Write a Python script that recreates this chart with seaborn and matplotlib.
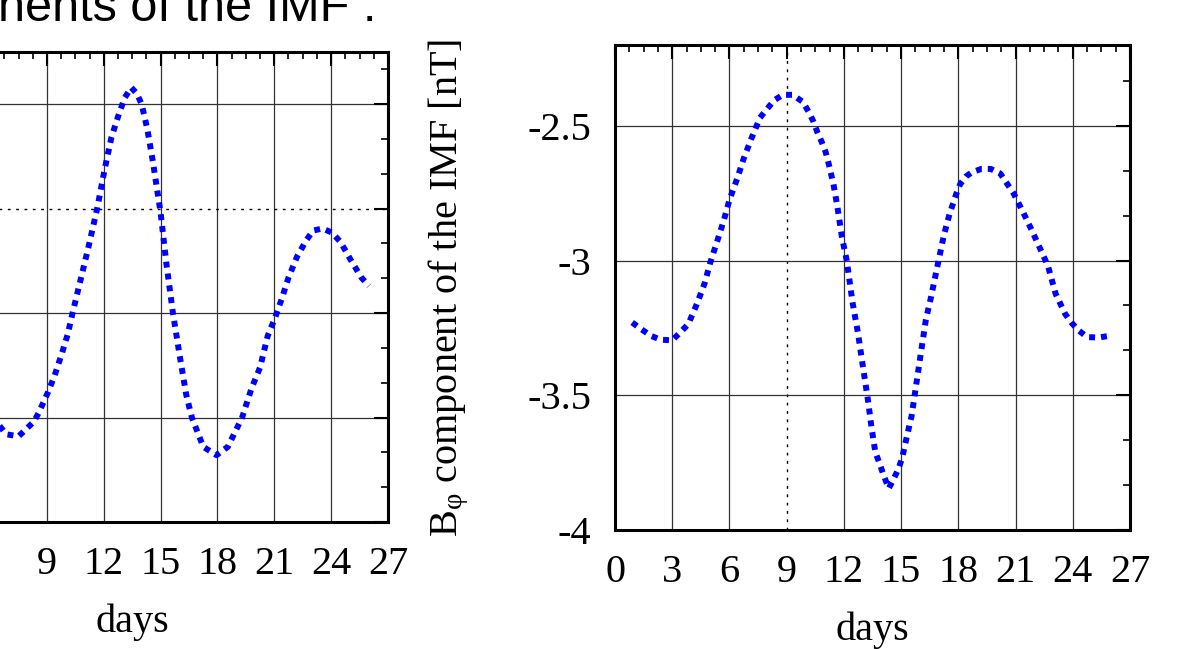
import pandas as pd
import seaborn as sns
from matplotlib import pyplot as plt
from matplotlib.ticker import MultipleLocator

left_days = [6.5, 6.85, 7.5, 7.85, 8.3, 8.55, 8.8, 9.05, 9.4, 9.8, 10.1, 10.35, 10.75, 11.2,
             11.65, 12.05, 12.4, 12.75, 13.1, 13.45, 13.75, 14.0, 14.3, 14.6, 14.8, 15.0,
             15.3, 15.65, 16.0, 16.35, 16.65, 17.25, 17.95, 18.55, 19.3, 19.8, 20.25, 20.65,
             21.05, 21.4, 21.75, 22.2, 22.7, 23.05, 23.55, 24.05, 24.5, 25.0, 25.6, 26.0]
left_vals = [-1.04, -1.08, -1.09, -1.06, -1.02, -0.98, -0.93, -0.88, -0.80, -0.69, -0.60, -0.50,
             -0.35, -0.18, 0.0, 0.19, 0.34, 0.44, 0.53, 0.58, 0.55, 0.50, 0.38, 0.22, 0.10, -0.02,
             -0.26, -0.50, -0.70, -0.89, -1.0, -1.14, -1.18, -1.14, -1.0, -0.86, -0.76, -0.61,
             -0.52, -0.43, -0.33, -0.23, -0.15, -0.105, -0.095, -0.115, -0.16, -0.24, -0.33, -0.37]

# B_phi component (right panel)
right_days = [0.9, 1.4, 1.9, 2.4, 3.0, 3.45, 3.85, 4.3, 4.7, 5.0, 5.35, 5.7, 6.0, 6.4, 6.75,
              7.15, 7.6, 8.0, 8.35, 8.8, 9.3, 9.85, 10.15, 10.4, 10.6, 10.85, 11.05, 11.2,
              11.45, 11.65, 11.9, 12.15, 12.45, 12.75, 13.0, 13.25, 13.45, 13.65, 13.85, 14.05,
              14.35, 14.6, 14.85, 15.05, 15.3, 15.55, 15.8, 16.05, 16.3, 16.55, 16.9, 17.25,
              17.55, 17.9, 18.1, 18.4, 18.7, 19.2, 19.7, 20.2, 20.55, 20.9, 21.4, 21.9, 22.4,
              22.7, 23.1, 23.6, 23.95, 24.3, 24.75, 25.35, 25.95]
right_vals = [-3.23, -3.256, -3.28, -3.294, -3.296, -3.265, -3.235, -3.16, -3.084, -3.006,
              -2.93, -2.852, -2.775, -2.697, -2.621, -2.547, -2.47, -2.435, -2.405, -2.385,
              -2.385, -2.411, -2.448, -2.484, -2.522, -2.562, -2.599, -2.64, -2.716, -2.796,
              -2.914, -3.0, -3.154, -3.274, -3.395, -3.512, -3.62, -3.712, -3.749, -3.79,
              -3.846, -3.812, -3.775, -3.734, -3.654, -3.577, -3.457, -3.337, -3.219, -3.142,
              -3.022, -2.904, -2.825, -2.751, -2.716, -2.688, -2.673, -2.66, -2.66, -2.677,
              -2.714, -2.751, -2.821, -2.895, -2.973, -3.02, -3.123, -3.198, -3.232, -3.259,
              -3.284, -3.286, -3.279]

x_ticks = list(range(0, 28, 3))
left_xticklabels = ['', '', '6', '9', '12', '15', '18', '21', '24', '27']
right_yticks = [-4, -3.5, -3, -2.5]
right_yticklabels = ['-4', '-3.5', '-3', '-2.5']

df_left = pd.DataFrame({'days': left_days, 'B': left_vals})
df_right = pd.DataFrame({'days': right_days, 'B': right_vals})

sns.set_theme(style='white')
plt.rcParams['font.family'] = ['Liberation Serif', 'DejaVu Serif']
plt.rcParams['mathtext.fontset'] = 'custom'
plt.rcParams['mathtext.rm'] = 'Liberation Serif'
plt.rcParams['mathtext.it'] = 'Liberation Serif:italic'
plt.rcParams['axes.unicode_minus'] = False
plt.rcParams['text.color'] = 'black'
plt.rcParams['axes.labelcolor'] = 'black'

fs = 29
fig = plt.figure(figsize=(11.97, 6.49), dpi=100)
ax1 = fig.add_axes([-0.1032, 0.1957, 0.4273, 0.7242])
ax2 = fig.add_axes([0.5138, 0.1834, 0.4302, 0.7473])

line_kw = dict(color='#0000ff', linewidth=4.3, linestyle=(0, (1, 1)), dash_capstyle='butt')
sns.lineplot(data=df_left, x='days', y='B', ax=ax1, **line_kw)
sns.lineplot(data=df_right, x='days', y='B', ax=ax2, **line_kw)

for ax in (ax1, ax2):
    ax.set_xlim(0, 27)
    ax.set_xticks(x_ticks)
    ax.xaxis.set_minor_locator(MultipleLocator(0.75))
    ax.tick_params(which='both', direction='in', top=True, right=True,
                   colors='black', labelcolor='black')
    ax.tick_params(which='major', length=10, width=1.5, labelsize=fs, pad=17)
    ax.tick_params(which='minor', length=5, width=1.2)
    for s in ax.spines.values():
        s.set_linewidth(2.2)
        s.set_color('black')
    ax.set_xlabel('days', fontsize=fs, labelpad=15, color='black')

# left panel: zero line dotted, grid elsewhere
ax1.set_ylim(-1.5, 0.75)
ax1.yaxis.set_major_locator(MultipleLocator(0.5))
ax1.yaxis.set_minor_locator(MultipleLocator(0.5 / 3))
ax1.set_xticklabels(left_xticklabels)
ax1.tick_params(axis='y', labelleft=False)
ax1.set_ylabel('')
for xv in x_ticks[1:-1]:
    ax1.axvline(xv, color='#333333', lw=0.9, zorder=0)
for yv in [-1.0, -0.5, 0.5]:
    ax1.axhline(yv, color='#333333', lw=0.9, zorder=0)
ax1.axhline(0, color='black', lw=1.0, linestyle=(0, (2, 4)), zorder=0)

# right panel
ax2.set_ylim(-4, -2.2)
ax2.set_yticks(right_yticks)
ax2.set_yticklabels(right_yticklabels)
ax2.yaxis.set_minor_locator(MultipleLocator(0.5 / 3))
for xv in x_ticks[1:-1]:
    if xv == 9:
        ax2.axvline(xv, color='black', lw=1.0, linestyle=(0, (2, 4)), zorder=0)
    else:
        ax2.axvline(xv, color='#333333', lw=0.9, zorder=0)
for yv in [-3.5, -3.0, -2.5]:
    ax2.axhline(yv, color='#333333', lw=0.9, zorder=0)
ax2.set_ylabel(r'B$_{\mathrm{\varphi}}$ component of the IMF [nT]', fontsize=fs, color='black')
ax2.yaxis.set_label_coords(-0.28, 0.5)

fig.text(-0.002, 1 - 21 / 649, 'nents of the IMF .', fontsize=35, color='black',
         family=['Liberation Sans', 'DejaVu Sans'], ha='left', va='baseline')

plt.savefig('out.png', dpi=100)
